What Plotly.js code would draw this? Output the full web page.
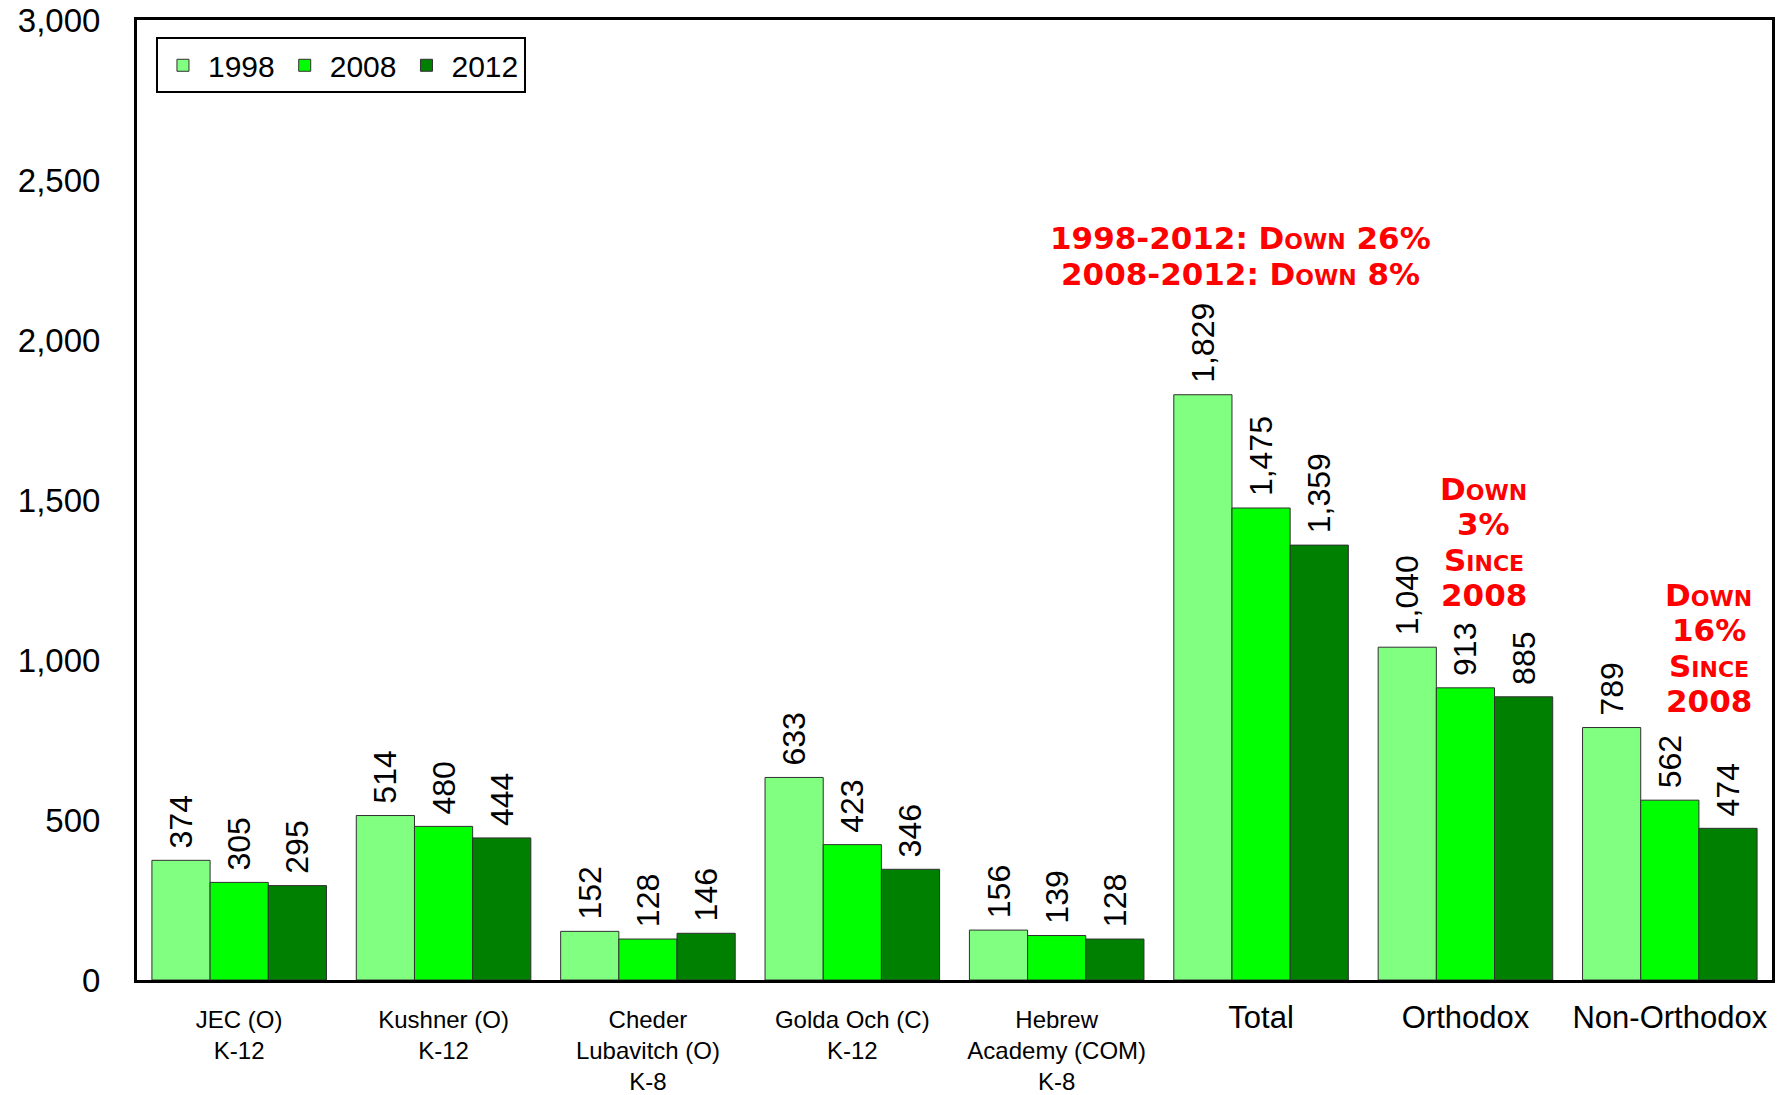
<!DOCTYPE html>
<html>
<head>
<meta charset="utf-8">
<script src="https://cdn.plot.ly/plotly-3.0.1.min.js"></script>
<style>
  html, body { margin: 0; padding: 0; background: #ffffff; }
  #chart { width: 1790px; height: 1095px; }
</style>
</head>
<body>
<div id="chart"></div>
<script>
// ---- data ----
const categories = [
  "JEC (O)<br>K-12",
  "Kushner (O)<br>K-12",
  "Cheder<br>Lubavitch (O)<br>K-8",
  "Golda Och (C)<br>K-12",
  "Hebrew<br>Academy (COM)<br>K-8",
  "Total",
  "Orthodox",
  "Non-Orthodox"
];
const seriesNames = ["1998", "2008", "2012"];
const values1998 = [374, 514, 152, 633, 156, 1829, 1040, 789];
const values2008 = [305, 480, 128, 423, 139, 1475, 913, 562];
const values2012 = [295, 444, 146, 346, 128, 1359, 885, 474];
const yTickVals = [0, 500, 1000, 1500, 2000, 2500, 3000];
const noteLines = [
  ["1998-2012: Down 26%", "2008-2012: Down 8%"],
  ["Down", "3%", "Since", "2008"],
  ["Down", "16%", "Since", "2008"]
];
const noteX = [4.9, 6.09, 7.19];
const noteY = [2262, 1368, 1037];

// ---- styling ----
const colors = ["#80FF80", "#00FF00", "#008000"];
const FONT = "Arial, 'Liberation Sans', sans-serif";
const bigCats = new Set(["Total", "Orthodox", "Non-Orthodox"]);
const idx = categories.map((_, i) => i);
const tickText = categories.map(c => bigCats.has(c)
  ? '<span style="font-size:31px">' + c + '</span>' : c);

const allValues = [values1998, values2008, values2012];
const traces = allValues.map((vals, k) => ({
  type: "bar",
  name: seriesNames[k],
  x: idx,
  y: vals,
  marker: { color: colors[k], line: { color: "#303030", width: 1 } },
  texttemplate: "\u00A0%{y:,}",
  textposition: "outside",
  textangle: -90,
  constraintext: "none",
  cliponaxis: false,
  textfont: { family: FONT, size: 32, color: "#000000" },
  hoverinfo: "x+y+name"
}));

// plot height in px and y range -> data units per pixel for note line spacing
const MARGIN = { l: 137, r: 18, t: 20, b: 115, pad: 0 };
const plotH = 1095 - MARGIN.t - MARGIN.b;
const unitsPerPx = 3000 / plotH;
const lineSpacingPx = 35.5;
const annotations = [];
noteLines.forEach((lines, i) => {
  const n = lines.length;
  lines.forEach((t, j) => {
    annotations.push({
      xref: "x", yref: "y",
      x: noteX[i],
      y: noteY[i] + ((n - 1) / 2 - j) * lineSpacingPx * unitsPerPx,
      text: t,
      showarrow: false,
      xanchor: "center", yanchor: "middle",
      font: { family: "'DejaVu Sans', sans-serif", size: 31, color: "#FF0000", weight: "bold", variant: "small-caps" }
    });
  });
});

const layout = {
  width: 1790, height: 1095,
  paper_bgcolor: "#ffffff", plot_bgcolor: "#ffffff",
  margin: MARGIN,
  barmode: "group",
  bargap: 0.146,
  bargroupgap: 0,
  showlegend: true,
  legend: {
    orientation: "h",
    x: 0.0116, y: 0.982, xanchor: "left", yanchor: "top",
    bordercolor: "#000000", borderwidth: 2, bgcolor: "#ffffff",
    font: { family: FONT, size: 30, color: "#000000" },
    itemwidth: 40,
    traceorder: "normal"
  },
  xaxis: {
    type: "linear",
    range: [-0.5, categories.length - 0.5],
    tickmode: "array",
    tickvals: idx,
    ticktext: tickText,
    ticks: "",
    ticklabelstandoff: 16,
    showgrid: false, zeroline: false,
    showline: true, linecolor: "#000000", linewidth: 3, mirror: true,
    tickfont: { family: FONT, size: 24, color: "#000000" }
  },
  yaxis: {
    range: [0, 3000],
    tickmode: "array",
    tickvals: yTickVals,
    tickformat: ",",
    ticks: "",
    ticklabelstandoff: 27,
    showgrid: false, zeroline: false,
    showline: true, linecolor: "#000000", linewidth: 3, mirror: true,
    tickfont: { family: FONT, size: 33, color: "#000000" }
  },
  annotations: annotations
};

Plotly.newPlot("chart", traces, layout, { displayModeBar: false, staticPlot: true });
</script>
</body>
</html>
